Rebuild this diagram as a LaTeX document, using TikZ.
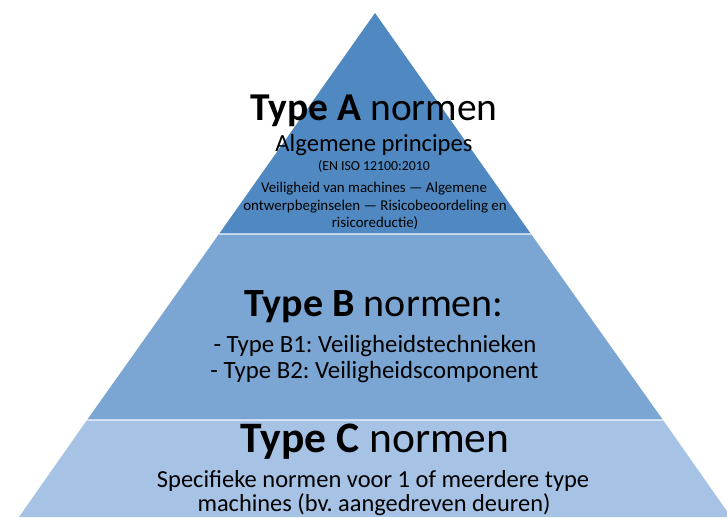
\documentclass[tikz,border=0pt]{standalone}
\usepackage{fontspec}
\setmainfont{Carlito}
\frenchspacing
\definecolor{tierA}{HTML}{5089C1}
\definecolor{tierB}{HTML}{7BA6D3}
\definecolor{tierC}{HTML}{A6C2E4}
\tikzset{
  lbl/.style={anchor=base, inner sep=0pt, text=black},
  sep/.style={draw=white, draw opacity=0.6, line width=1.6pt}
}
\begin{document}
\begin{tikzpicture}[x=1pt,y=-1pt]
\useasboundingbox (0,0) rectangle (727,517);
% tiers
\coordinate (apex) at (375,13);
\coordinate (aL) at (219,234);
\coordinate (aR) at (531,234);
\coordinate (bL) at (87,420);
\coordinate (bR) at (663,420);
\coordinate (cL) at (19,517);
\coordinate (cR) at (731,517);
\fill[tierA] (apex) -- (aR) -- (aL) -- cycle;
\fill[tierB] (aL) -- (aR) -- (bR) -- (bL) -- cycle;
\fill[tierC] (bL) -- (bR) -- (cR) -- (cL) -- cycle;
\draw[sep] (aL) -- (aR);
\draw[sep] (bL) -- (bR);
% Tier A text
\node[lbl, font=\fontsize{39.5}{42}\selectfont] (ta) at (374,120) {\textbf{Type A} normen};
\node[lbl, font=\fontsize{24.6}{28}\selectfont] (ta1) at (374,151) {Algemene principes};
\node[lbl, font=\fontsize{13.8}{16}\selectfont] (ta2) at (374,170.5) {(EN ISO 12100:2010};
\node[lbl, font=\fontsize{14.9}{17}\selectfont] (ta3) at (374,192.5) {Veiligheid van machines — Algemene};
\node[lbl, font=\fontsize{14.9}{17}\selectfont] (ta4) at (375,210.5) {ontwerpbeginselen — Risicobeoordeling en};
\node[lbl, font=\fontsize{14.9}{17}\selectfont] (ta5) at (375,227.5) {risicoreductie)};
% Tier B text
\node[lbl, font=\fontsize{40}{44}\selectfont] (tb) at (374,316.5) {\textbf{Type B} normen:};
\node[lbl, font=\fontsize{24.8}{28}\selectfont] (tb1) at (375,352.5) {- Type B1: Veiligheidstechnieken};
\node[lbl, font=\fontsize{24.8}{28}\selectfont] (tb2) at (374.5,378.5) {- Type B2: Veiligheidscomponent};
% Tier C text
\node[lbl, font=\fontsize{43.5}{46}\selectfont] (tc) at (375,452.3) {\textbf{Type C} normen};
\node[lbl, font=\fontsize{24.5}{28}\selectfont] (tc1) at (373,487.7) {Specifieke normen voor 1 of meerdere type};
\node[lbl, font=\fontsize{24.4}{28}\selectfont] (tc2) at (374,511.5) {machines (bv. aangedreven deuren)};
\end{tikzpicture}
\end{document}
